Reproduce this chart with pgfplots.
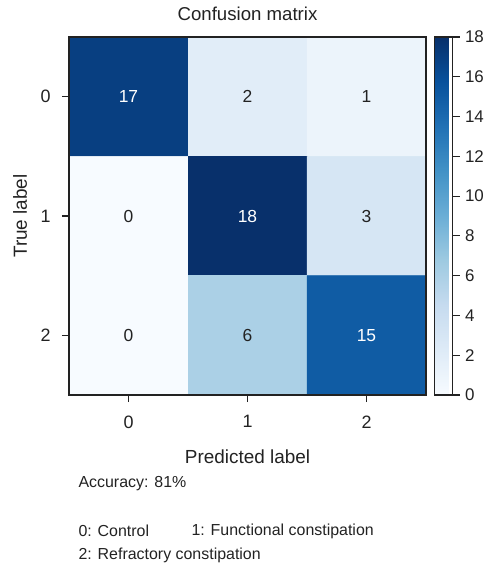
\documentclass[border=0pt]{standalone}
\usepackage{fontspec}
\setmainfont{Liberation Sans}
\usepackage{pgfplots}
\usepackage{pgfplotstable}
\pgfplotsset{compat=1.18}
\definecolor{txt}{RGB}{34,34,34}
\pgfplotstableread{
x y C
0 0 17
1 0 2
2 0 1
0 1 0
1 1 18
2 1 3
0 2 0
1 2 6
2 2 15
}\cmdata
\pgfplotstableread{
x y L
1 0 2
2 0 1
0 1 0
2 1 3
0 2 0
1 2 6
}\darklabels
\pgfplotstableread{
x y L
0 0 17
1 1 18
2 2 15
}\lightlabels
\begin{document}
\begin{tikzpicture}
\useasboundingbox (0bp,0bp) rectangle (491bp,565bp);
\begin{axis}[
  at={(69bp,170bp)}, anchor=south west,
  scale only axis, width=357bp, height=358bp,
  xmin=-0.5, xmax=2.5, ymin=-0.5, ymax=2.5,
  y dir=reverse, enlargelimits=false, clip=false,
  axis on top,
  xtick={0,1,2}, ytick={0,1,2},
  xtick pos=bottom, ytick pos=left,
  tick align=outside, major tick length=7bp,
  tick style={line width=1.4bp, draw=txt},
  axis line style={line width=1.8bp, draw=txt},
  /pgf/number format/assume math mode=true,
  ticklabel style={font=\fontsize{18}{20}\selectfont, text=txt},
  xticklabel style={yshift=-10bp},
  yticklabel style={xshift=-8bp},
  title={Confusion matrix},
  title style={at={(axis description cs:0.5,1.047)}, anchor=center, font=\fontsize{18.7}{22}\selectfont, text=txt},
  xlabel={Predicted label},
  xlabel style={at={(axis description cs:0.5,-0.173)}, anchor=center, font=\fontsize{19}{22}\selectfont, text=txt},
  ylabel={True label},
  ylabel style={at={(axis description cs:-0.137,0.5)}, anchor=center, rotate=0, font=\fontsize{19}{22}\selectfont, text=txt},
  colormap={blues}{rgb255(0)=(247,251,255) rgb255(1)=(222,235,247) rgb255(2)=(198,219,239) rgb255(3)=(158,202,225) rgb255(4)=(107,174,214) rgb255(5)=(66,146,198) rgb255(6)=(33,113,181) rgb255(7)=(8,81,156) rgb255(8)=(8,48,107)},
  point meta min=0, point meta max=18,
  colorbar,
  colorbar style={
    at={(parent axis.north east)}, anchor=north west, xshift=0bp,
    width=18bp,
    ytick={0,2,...,18},
    ytick pos=right,
    axis on top,
    tick align=outside, major tick length=7bp,
    tick style={line width=1.1bp, draw=txt},
    axis line style={line width=1.8bp, draw=txt},
    /pgf/number format/assume math mode=true,
    yticklabel style={font=\fontsize{17}{20}\selectfont, text=txt, xshift=2bp},
  },
]
\addplot[matrix plot*, mesh/cols=3, point meta=explicit] table[x=x, y=y, meta=C] {\cmdata};
\addplot[only marks, mark=none, nodes near coords, point meta=explicit symbolic,
  nodes near coords align=center,
  nodes near coords style={text=txt, font=\fontsize{17.5}{20}\selectfont}] table[x=x, y=y, meta=L] {\darklabels};
\addplot[only marks, mark=none, nodes near coords, point meta=explicit symbolic,
  nodes near coords align=center,
  nodes near coords style={text=white, font=\fontsize{17.5}{20}\selectfont}] table[x=x, y=y, meta=L] {\lightlabels};
\end{axis}
\node[anchor=west, text=txt, font=\fontsize{16}{18}\selectfont] at (75bp,81bp) {Accuracy: 81\%};
\node[anchor=west, text=txt, font=\fontsize{16}{18}\selectfont] at (75bp,34bp) {0: Control};
\node[anchor=west, text=txt, font=\fontsize{16}{18}\selectfont] at (188bp,34bp) {1: Functional constipation};
\node[anchor=west, text=txt, font=\fontsize{16}{18}\selectfont] at (75bp,10bp) {2: Refractory constipation};
\end{tikzpicture}
\end{document}
